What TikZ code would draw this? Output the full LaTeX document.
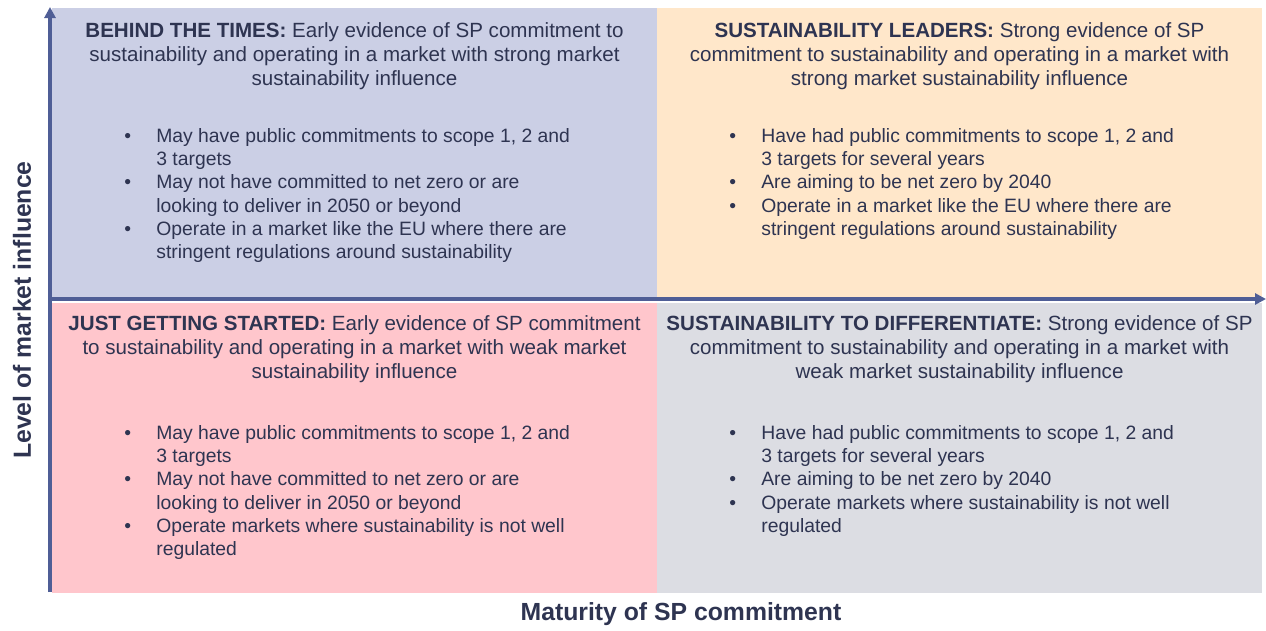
\documentclass[tikz,border=0pt]{standalone}
\usepackage{fontspec}
\setmainfont{Liberation Sans}
\usetikzlibrary{arrows.meta,positioning}

\definecolor{ink}{HTML}{2E3451}
\definecolor{axisblue}{HTML}{4F5E96}
\definecolor{lavender}{HTML}{CBCFE5}
\definecolor{peach}{HTML}{FFE7CA}
\definecolor{rose}{HTML}{FFC6CC}
\definecolor{mist}{HTML}{DCDDE3}

% bullet list: one row per line, continuation rows leave the first cell empty
\newcommand{\pointlist}[1]{\begin{tabular}{@{}p{0.64cm}@{}l@{}}#1\end{tabular}}

\begin{document}
\begin{tikzpicture}[
			>={Triangle[length=0.22cm,width=0.22cm]},
			quad/.style={minimum width=12.1cm, minimum height=5.8cm, inner sep=0, outer sep=0},
			head/.style={align=center, inner sep=0, text=ink, font=\fontsize{11.7}{13.7}\selectfont},
			points/.style={inner sep=0, text=ink, font=\fontsize{11}{13.2}\selectfont},
			axis/.style={draw=axisblue, line width=2pt, ->},
			axislabel/.style={text=ink, font=\bfseries\fontsize{14.1}{17}\selectfont}
	]
	\useasboundingbox (0,0) rectangle (25.32,12.6);

	% the four quadrants
	\node[quad, fill=lavender, anchor=north west] (tl) at (1.04,12.44) {};
	\node[quad, fill=peach, right=0pt of tl] (tr) {};
	\node[quad, fill=rose, below=0.1cm of tl] (bl) {};
	\node[quad, fill=mist, right=0pt of bl] (br) {};

	% headings
	\node[head, below=0.28cm of tl.north] (tlhead) {\textbf{BEHIND THE TIMES:} Early evidence of SP commitment to\\
		sustainability and operating in a market with strong market\\
		sustainability influence};
	\node[head, below=0.28cm of tr.north] (trhead) {\textbf{SUSTAINABILITY LEADERS:} Strong evidence of SP\\
		commitment to sustainability and operating in a market with\\
		strong market sustainability influence};
	\node[head, below=0.25cm of bl.north] (blhead) {\textbf{JUST GETTING STARTED:} Early evidence of SP commitment\\
		to sustainability and operating in a market with weak market\\
		sustainability influence};
	\node[head, below=0.25cm of br.north] (brhead) {\textbf{SUSTAINABILITY TO DIFFERENTIATE:} Strong evidence of SP\\
		commitment to sustainability and operating in a market with\\
		weak market sustainability influence};

	% bullet points
	\node[points, below right=2.36cm and 1.44cm of tl.north west] (tlpoints) {\pointlist{
		\textbullet & May have public commitments to scope 1, 2 and\\
		& 3 targets\\
		\textbullet & May not have committed to net zero or are\\
		& looking to deliver in 2050 or beyond\\
		\textbullet & Operate in a market like the EU where there are\\
		& stringent regulations around sustainability}};
	\node[points, below right=2.36cm and 1.44cm of tr.north west] (trpoints) {\pointlist{
		\textbullet & Have had public commitments to scope 1, 2 and\\
		& 3 targets for several years\\
		\textbullet & Are aiming to be net zero by 2040\\
		\textbullet & Operate in a market like the EU where there are\\
		& stringent regulations around sustainability}};
	\node[points, below right=2.4cm and 1.44cm of bl.north west] (blpoints) {\pointlist{
		\textbullet & May have public commitments to scope 1, 2 and\\
		& 3 targets\\
		\textbullet & May not have committed to net zero or are\\
		& looking to deliver in 2050 or beyond\\
		\textbullet & Operate markets where sustainability is not well\\
		& regulated}};
	\node[points, below right=2.4cm and 1.44cm of br.north west] (brpoints) {\pointlist{
		\textbullet & Have had public commitments to scope 1, 2 and\\
		& 3 targets for several years\\
		\textbullet & Are aiming to be net zero by 2040\\
		\textbullet & Operate markets where sustainability is not well\\
		& regulated}};

	% axes
	\coordinate (origin) at (1.0,0.76);
	\coordinate (ytop) at (1.0,12.46);
	\coordinate (xleft) at (0.96,6.62);
	\coordinate (xright) at (25.32,6.62);
	\draw[axis] (origin) -- (ytop);
	\draw[axis] (xleft) -- (xright);

	\node[axislabel, rotate=90] (ylabel) at (0.44,6.4) {Level of market influence};
	\node[axislabel] (xlabel) at (13.62,0.32) {Maturity of SP commitment};
\end{tikzpicture}
\end{document}
